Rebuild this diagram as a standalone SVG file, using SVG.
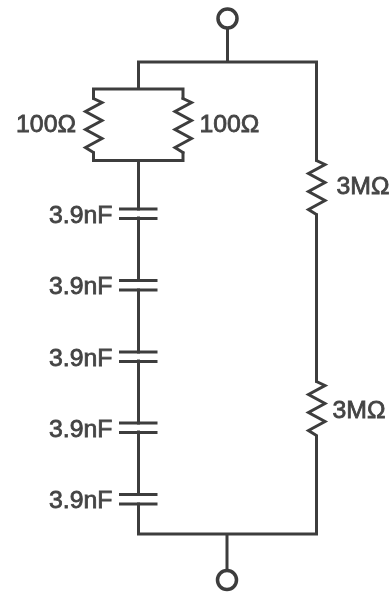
<svg xmlns="http://www.w3.org/2000/svg" width="390" height="594" viewBox="0 0 390 594">
<style>
.w{fill:none;stroke:#3c3c3c;stroke-width:3;stroke-linejoin:miter;stroke-linecap:square}
.c{fill:#fff;stroke:#3c3c3c;stroke-width:3.5}
.p{fill:none;stroke:#3c3c3c;stroke-width:3}
text{font-family:"Liberation Sans",Arial,sans-serif;font-size:24.8px;fill:#444;stroke:#444;stroke-width:.8}
.e{text-anchor:end}
</style>
<defs>
<filter id="b" x="-5%" y="-5%" width="110%" height="110%"><feGaussianBlur stdDeviation="0.6"/></filter>
<path id="z" d="M0 0V1L8.500 5L-8 14L8.500 23L-8 32L8.500 41L-8 50L0 55V56"/>
<path id="cap" d="M-19.500 0H19M-19.500 9.500H19"/>
</defs>
<rect width="390" height="594" fill="#fff"/>
<g filter="url(#b)">
<g id="connectors">
<path class="w" d="M227.500 28V62M138.500 62H316.500V160M138.500 62V89M93.500 89H183V98M93.500 89V98M93.500 153V160.500H183V153M138.500 161V209"/>
<path class="w" d="M138.500 218V280M138.500 290V352M138.500 361V423M138.500 432V494M138.500 504V534H316.500V437M316.500 215V381M227 534V570"/>
</g>
<g id="T1"><circle class="c" cx="227.500" cy="18.500" r="9.500"/></g>
<g id="T2"><circle class="c" cx="227" cy="580" r="9.500"/></g>
<g id="R1"><use href="#z" class="p" x="93.500" y="97.500"/><text class="e" x="76" y="132">100Ω</text></g>
<g id="R2"><use href="#z" class="p" x="183" y="97.500"/><text x="199.500" y="132">100Ω</text></g>
<g id="R3"><use href="#z" class="p" x="316.500" y="159.500"/><text x="336.500" y="194">3MΩ</text></g>
<g id="R4"><use href="#z" class="p" x="316.500" y="380.500"/><text x="332.500" y="418">3MΩ</text></g>
<g id="C1"><use href="#cap" class="p" x="138.500" y="209"/><text class="e" x="112.500" y="222.500">3.9nF</text></g>
<g id="C2"><use href="#cap" class="p" x="138.500" y="280.500"/><text class="e" x="112.500" y="293.500">3.9nF</text></g>
<g id="C3"><use href="#cap" class="p" x="138.500" y="352"/><text class="e" x="112.500" y="366">3.9nF</text></g>
<g id="C4"><use href="#cap" class="p" x="138.500" y="423"/><text class="e" x="112.500" y="437">3.9nF</text></g>
<g id="C5"><use href="#cap" class="p" x="138.500" y="494.500"/><text class="e" x="112.500" y="508">3.9nF</text></g>
</g>
</svg>
